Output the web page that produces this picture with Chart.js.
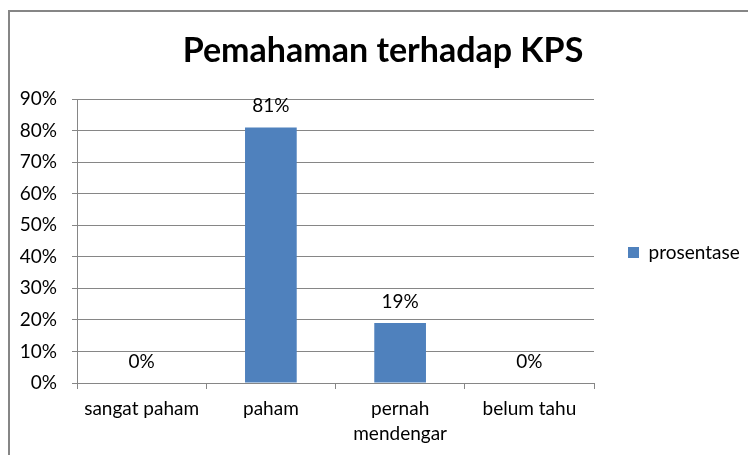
<!DOCTYPE html>
<html><head><meta charset="utf-8">
<script src="https://cdn.jsdelivr.net/npm/chart.js@4/dist/chart.umd.min.js"></script>
<style>
html,body{margin:0;padding:0;background:#fff;overflow:hidden}
#frame{position:absolute;left:8px;top:10px;width:800px;height:500px;border-left:2px solid #868686;border-top:2px solid #868686;box-sizing:border-box}
#c{position:absolute;left:0;top:0}
</style></head><body>
<div id="frame"></div>
<canvas id="c" width="748" height="455"></canvas>
<script>
// ---- data ----
const chartTitle = 'Pemahaman terhadap KPS';
const seriesName = 'prosentase';
const categories = ['sangat paham', 'paham', 'pernah mendengar', 'belum tahu'];
const tickLabels = [['sangat paham'], ['paham'], ['pernah', 'mendengar'], ['belum tahu']];
const values = [0, 81, 19, 0];
const yMin = 0;
const yMax = 90;
const yStep = 10;

// ---- style ----
const FONT = 'Lato';
const GRID = '#868686';
const BAR = '#4F81BD';

const valueLabels = {
  id: 'valueLabels',
  afterDatasetsDraw(chart) {
    const ctx = chart.ctx;
    chart.data.datasets.forEach((ds, i) => {
      chart.getDatasetMeta(i).data.forEach((bar, j) => {
        ctx.save();
        ctx.font = '19px ' + FONT;
        ctx.fillStyle = '#000';
        ctx.textAlign = 'center';
        ctx.textBaseline = 'alphabetic';
        ctx.fillText(ds.data[j] + '%', bar.x, bar.y - 15);
        ctx.restore();
      });
    });
  }
};

const legendShift = {
  id: 'legendShift',
  afterLayout(chart) {
    if (chart.legend) { chart.legend.top += 25; chart.legend.bottom += 25; }
  }
};

new Chart(document.getElementById('c'), {
  type: 'bar',
  data: {
    labels: tickLabels,
    datasets: [{
      label: seriesName,
      data: values,
      backgroundColor: BAR,
      borderWidth: 0,
      barPercentage: 0.4,
      categoryPercentage: 1.0
    }]
  },
  options: {
    responsive: false,
    animation: false,
    devicePixelRatio: 1,
    layout: { padding: { left: 18, right: 0, top: 0, bottom: 0 } },
    plugins: {
      title: {
        display: true,
        text: chartTitle,
        color: '#000',
        font: { family: FONT, size: 34, weight: 'bold' },
        padding: { top: 30.2, bottom: 28 }
      },
      legend: {
        display: true,
        position: 'right',
        maxWidth: 154,
        labels: {
          boxWidth: 11,
          boxHeight: 11,
          padding: 34,
          color: '#000',
          font: { family: FONT, size: 19 }
        }
      },
      tooltip: { enabled: false }
    },
    scales: {
      x: {
        afterFit(s) { s.height = 72; },
        grid: { drawOnChartArea: false, drawTicks: true, tickLength: 6, color: GRID, offset: true },
        border: { display: true, color: GRID, width: 1 },
        ticks: { color: '#000', padding: 8, maxRotation: 0, autoSkip: false, font: { family: FONT, size: 19, lineHeight: 1.3 } }
      },
      y: {
        min: yMin,
        max: yMax,
        afterFit(s) { s.width = 59; },
        grid: { color: GRID, tickLength: 5, drawTicks: true },
        border: { display: true, color: GRID, width: 1 },
        ticks: { stepSize: yStep, color: '#000', padding: 15, font: { family: FONT, size: 19 }, callback: v => v + '%' }
      }
    }
  },
  plugins: [valueLabels, legendShift]
});
</script>
</body></html>
